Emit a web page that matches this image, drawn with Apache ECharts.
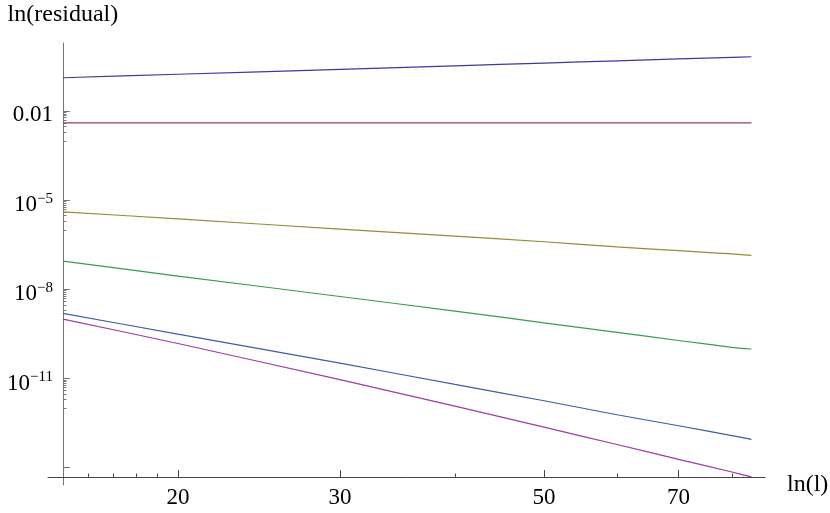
<!DOCTYPE html>
<html>
<head>
<meta charset="utf-8">
<title>ln(residual) vs ln(l)</title>
<script src="https://cdn.jsdelivr.net/npm/echarts@6/dist/echarts.min.js"></script>
<style>
  html, body { margin: 0; padding: 0; background: #fff; }
  #chart { width: 830px; height: 513px; }
</style>
</head>
<body>
<div id="chart"></div>
<script>
const ls = [15, 20, 30, 40, 50, 60, 70, 80, 84]

// residuals, one array per curve, top to bottom
const navy = [0.132, 0.173, 0.254, 0.333, 0.412, 0.49, 0.566, 0.643, 0.673]
const maroon = [0.004, 0.004, 0.004, 0.004, 0.004, 0.004, 0.004, 0.004, 0.004]
const olive = [4.07e-6, 2.34e-6, 1.07e-6, 6.2e-7, 4.0e-7, 2.69e-7, 2.0e-7, 1.55e-7, 1.38e-7]
const green = [8.9e-8, 2.8e-8, 5.75e-9, 1.86e-9, 7.4e-10, 3.55e-10, 1.9e-10, 1.12e-10, 9.8e-11]
const blue = [1.55e-9, 3.1e-10, 3.3e-11, 6.3e-12, 1.78e-12, 6.0e-13, 2.57e-13, 1.2e-13, 8.9e-14]
const magenta = [1.0e-9, 1.5e-10, 9.1e-12, 1.17e-12, 2.3e-13, 6.0e-14, 1.9e-14, 7.1e-15, 4.9e-15]

// ticks
const xMajor = [20, 30, 50, 70]
const xMinor = [16, 17, 18, 19, 40, 60, 80]
const yMajor = [1e-14, 1e-11, 1e-8, 1e-5, 1e-2]
const yLabeled = [1e-11, 1e-8, 1e-5, 1e-2]

// axis extents (the axes overhang a little past the crossing point)
const xRange = [14.45, 86.9]
const yRange = [2.6e-15, 1.95]
const xCross = 15       // where the y axis sits
const yCross = 4.8e-15  // where the x axis sits

const colors = ['#3b3b9a', '#963c6e', '#958b38', '#3c9a55', '#3c5fa0', '#a03c9e']
const font = '"Liberation Serif", "DejaVu Serif", serif'

const lg = Math.log10
const grid = { left: 48, right: 65, top: 43, bottom: 28 }
const gridW = 830 - grid.left - grid.right
const gridH = 513 - grid.top - grid.bottom
const yAxisOffset = -(lg(xCross) - lg(xRange[0])) / (lg(xRange[1]) - lg(xRange[0])) * gridW
const xAxisOffset = -(lg(yCross) - lg(yRange[0])) / (lg(yRange[1]) - lg(yRange[0])) * gridH

// minor y ticks: 1..9 times the decade just below each labelled tick
let yMinor = []
yLabeled.forEach(v => {
  for (let m = 1; m <= 9; m++) yMinor.push(m * v / 10)
})

const axisColor = '#777'

let baseX = {
  type: 'value',
  position: 'bottom',
  min: lg(xRange[0]),
  max: lg(xRange[1]),
  offset: xAxisOffset,
  splitLine: { show: false }
}
let baseY = {
  type: 'value',
  position: 'left',
  min: lg(yRange[0]),
  max: lg(yRange[1]),
  offset: yAxisOffset,
  splitLine: { show: false }
}

let option = {
  animation: false,
  grid: Object.assign({ containLabel: false, outerBoundsMode: 'none' }, grid),
  xAxis: [
    Object.assign({}, baseX, {
      name: 'ln(l)',
      nameLocation: 'end',
      nameGap: 22,
      nameTextStyle: { fontFamily: font, fontSize: 24, color: '#000', verticalAlign: 'top', lineHeight: 16 },
      axisLine: { show: true, onZero: false, lineStyle: { color: '#444', width: 1 } },
      axisTick: { show: true, inside: true, length: 7, customValues: xMajor.map(lg), lineStyle: { color: '#444' } },
      axisLabel: {
        show: true,
        customValues: xMajor.map(lg),
        margin: 9,
        fontFamily: font,
        fontSize: 23,
        color: '#000',
        formatter: v => String(Math.round(Math.pow(10, v)))
      }
    }),
    Object.assign({}, baseX, {
      axisLine: { show: false, onZero: false },
      axisTick: { show: true, inside: true, length: 3.5, customValues: xMinor.map(lg), lineStyle: { color: '#444' } },
      axisLabel: { show: false }
    })
  ],
  yAxis: [
    Object.assign({}, baseY, {
      name: 'ln(residual)',
      nameLocation: 'end',
      nameGap: 16,
      nameTextStyle: { fontFamily: font, fontSize: 24, color: '#000' },
      axisLine: { show: true, onZero: false, lineStyle: { color: axisColor, width: 1 } },
      axisTick: { show: true, inside: true, length: 7, customValues: yMajor.map(lg), lineStyle: { color: axisColor } },
      axisLabel: {
        show: true,
        customValues: yLabeled.map(lg),
        margin: 10,
        fontFamily: font,
        fontSize: 23,
        color: '#000',
        padding: [8, 0, 0, 0],
        formatter: v => {
          const e = Math.round(v)
          if (e === -2) return '{p|0.01}'
          return '{b|10}{sup|\u2212' + (-e) + '}'
        },
        rich: {
          p: { fontFamily: font, fontSize: 23, lineHeight: 23, color: '#000' },
          b: { fontFamily: font, fontSize: 23, lineHeight: 25, verticalAlign: 'bottom', color: '#000' },
          sup: { fontFamily: font, fontSize: 15, lineHeight: 15, verticalAlign: 'top', color: '#000' }
        }
      }
    }),
    Object.assign({}, baseY, {
      axisLine: { show: false, onZero: false },
      axisTick: { show: true, inside: true, length: 3.5, customValues: yMinor.map(lg), lineStyle: { color: axisColor } },
      axisLabel: { show: false }
    })
  ],
  series: [navy, maroon, olive, green, blue, magenta].map((vals, i) => {
    return {
      type: 'line',
      xAxisIndex: 0,
      yAxisIndex: 0,
      symbol: 'none',
      silent: true,
      smooth: 0.2,
      lineStyle: { color: colors[i], width: 1.2 },
      data: vals.map((r, j) => [lg(ls[j]), lg(r)])
    }
  })
}

let mychart = echarts.init(document.getElementById('chart'), null, { renderer: 'canvas' })
mychart.setOption(option)
</script>
</body>
</html>
